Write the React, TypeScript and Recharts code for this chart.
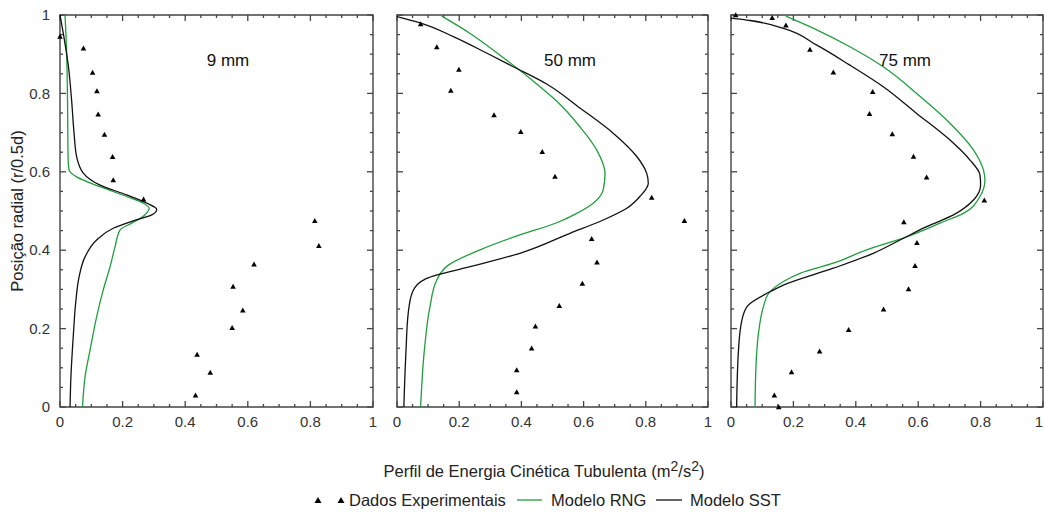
import { ScatterChart, Scatter, XAxis, YAxis, ReferenceArea, ReferenceLine } from 'recharts'

type Pt = [number, number]

// tick positions shared by every panel (major every 0.2, minor every 0.05)
const axisTicks = [0, 0.05, 0.1, 0.15, 0.2, 0.25, 0.3, 0.35, 0.4, 0.45, 0.5, 0.55, 0.6, 0.65, 0.7, 0.75, 0.8, 0.85, 0.9, 0.95, 1]

const panelLabels = ['9 mm', '50 mm', '75 mm']

// 9 mm
const exp9: Pt[] = [[0.0, 0.945], [0.075, 0.915], [0.104, 0.853], [0.118, 0.806], [0.122, 0.747], [0.142, 0.695], [0.168, 0.638], [0.17, 0.579], [0.267, 0.53], [0.814, 0.475], [0.827, 0.411], [0.62, 0.364], [0.553, 0.307], [0.584, 0.247], [0.55, 0.202], [0.438, 0.134], [0.48, 0.088], [0.433, 0.03]]
const sst9: Pt[] = [[0, 1], [0.016, 0.927], [0.027, 0.868], [0.037, 0.783], [0.045, 0.698], [0.053, 0.639], [0.075, 0.596], [0.128, 0.566], [0.213, 0.541], [0.277, 0.52], [0.309, 0.504], [0.293, 0.49], [0.234, 0.475], [0.17, 0.456], [0.117, 0.426], [0.08, 0.383], [0.061, 0.332], [0.051, 0.273], [0.043, 0.188], [0.034, 0.06], [0.032, 0]]
const rng9: Pt[] = [[0.016, 1], [0.021, 0.911], [0.024, 0.783], [0.026, 0.63], [0.029, 0.605], [0.053, 0.587], [0.128, 0.562], [0.213, 0.537], [0.266, 0.52], [0.285, 0.507], [0.271, 0.49], [0.229, 0.469], [0.192, 0.452], [0.176, 0.409], [0.16, 0.358], [0.138, 0.298], [0.117, 0.23], [0.096, 0.145], [0.08, 0.077], [0.072, 0]]

// 50 mm
const exp50: Pt[] = [[0.076, 0.977], [0.128, 0.918], [0.199, 0.861], [0.173, 0.807], [0.312, 0.745], [0.398, 0.702], [0.467, 0.651], [0.508, 0.588], [0.819, 0.534], [0.924, 0.475], [0.626, 0.429], [0.643, 0.369], [0.596, 0.315], [0.522, 0.258], [0.445, 0.206], [0.433, 0.15], [0.385, 0.094], [0.385, 0.038]]
const sst50: Pt[] = [[0, 0.996], [0.074, 0.98], [0.181, 0.945], [0.288, 0.903], [0.374, 0.868], [0.481, 0.824], [0.588, 0.763], [0.696, 0.698], [0.771, 0.639], [0.803, 0.596], [0.808, 0.571], [0.781, 0.537], [0.739, 0.507], [0.663, 0.477], [0.556, 0.443], [0.395, 0.392], [0.235, 0.358], [0.095, 0.328], [0.05, 0.294], [0.036, 0.239], [0.029, 0.145], [0.022, 0]]
const rng50: Pt[] = [[0.144, 0.997], [0.235, 0.953], [0.342, 0.891], [0.428, 0.838], [0.514, 0.78], [0.588, 0.715], [0.642, 0.656], [0.669, 0.596], [0.663, 0.554], [0.631, 0.52], [0.578, 0.494], [0.514, 0.47], [0.395, 0.439], [0.267, 0.401], [0.165, 0.362], [0.128, 0.324], [0.106, 0.256], [0.088, 0.145], [0.076, 0]]

// 75 mm
const exp75: Pt[] = [[0.015, 1.0], [0.132, 0.993], [0.176, 0.974], [0.253, 0.912], [0.328, 0.854], [0.454, 0.804], [0.444, 0.748], [0.517, 0.696], [0.585, 0.639], [0.627, 0.586], [0.812, 0.527], [0.554, 0.472], [0.596, 0.419], [0.59, 0.36], [0.569, 0.301], [0.489, 0.249], [0.377, 0.197], [0.284, 0.142], [0.194, 0.089], [0.139, 0.03], [0.153, 0]]
const sst75: Pt[] = [[0, 0.992], [0.061, 0.986], [0.168, 0.966], [0.275, 0.923], [0.381, 0.872], [0.488, 0.817], [0.595, 0.749], [0.702, 0.681], [0.766, 0.63], [0.798, 0.592], [0.8, 0.566], [0.777, 0.528], [0.713, 0.49], [0.627, 0.46], [0.542, 0.426], [0.456, 0.392], [0.328, 0.354], [0.168, 0.311], [0.12, 0.292], [0.053, 0.258], [0.034, 0.218], [0.024, 0.145], [0.018, 0]]
const rng75: Pt[] = [[0.176, 0.997], [0.275, 0.962], [0.381, 0.919], [0.488, 0.868], [0.595, 0.8], [0.702, 0.724], [0.777, 0.656], [0.809, 0.605], [0.814, 0.579], [0.798, 0.537], [0.745, 0.494], [0.67, 0.469], [0.563, 0.434], [0.435, 0.401], [0.328, 0.367], [0.221, 0.341], [0.168, 0.32], [0.12, 0.289], [0.104, 0.256], [0.088, 0.188], [0.08, 0.103], [0.077, 0]]

const FONT = '"Liberation Sans", Arial, sans-serif'
const AXIS = '#444'
const GREEN = '#1f9e3c'
const BLACK = '#111'

const toPts = (arr: Pt[]) => arr.map(([x, y]) => ({ x, y }))
const toCurve = (arr: Pt[]) => toPts(arr).sort((a, b) => a.y - b.y)

const isMajor = (v: number) => Math.abs(v * 5 - Math.round(v * 5)) < 1e-6
const fmt = (v: number) => (v === 0 ? '0' : v === 1 ? '1' : v.toFixed(1))
const tickLen = (v: number) => (isMajor(v) ? 6 : 3)

// axis labels only; tick marks are drawn with ReferenceLine shapes below
const BottomLabel = (props: any) => {
  const { x, y, payload, lastShift } = props
  const v = payload.value
  if (!isMajor(v)) return <g />
  return (
    <text x={v === 1 && lastShift ? x - 4 : x} y={y + 20} textAnchor="middle" fontSize={15} fill="#333" fontFamily={FONT}>
      {fmt(v)}
    </text>
  )
}
const LeftLabel = (props: any) => {
  const { x, y, payload } = props
  const v = payload.value
  if (!isMajor(v)) return <g />
  return (
    <text x={x - 10} y={y} dy="0.35em" textAnchor="end" fontSize={15} fill="#333" fontFamily={FONT}>
      {fmt(v)}
    </text>
  )
}

// inward ticks at both ends of a vertical reference line (top and bottom axes)
const VTicks = (props: any) => {
  const { x1, y1, y2, len } = props
  const top = Math.min(y1, y2)
  const bot = Math.max(y1, y2)
  return (
    <g stroke={AXIS} strokeWidth={1.3}>
      <line x1={x1} x2={x1} y1={top} y2={top + len} />
      <line x1={x1} x2={x1} y1={bot} y2={bot - len} />
    </g>
  )
}
// inward ticks at both ends of a horizontal reference line (left and right axes)
const HTicks = (props: any) => {
  const { x1, x2, y1, len } = props
  const l = Math.min(x1, x2)
  const r = Math.max(x1, x2)
  return (
    <g stroke={AXIS} strokeWidth={1.3}>
      <line x1={l} x2={l + len} y1={y1} y2={y1} />
      <line x1={r} x2={r - len} y1={y1} y2={y1} />
    </g>
  )
}

const Triangle = (props: any) => {
  const { cx, cy } = props
  if (cx == null || cy == null) return <g />
  return <polygon points={`${cx - 2.8},${cy + 2.2} ${cx + 2.8},${cy + 2.2} ${cx},${cy - 2.8}`} fill="#000" />
}
const NoDot = () => <g />

function Panel({ left, width, marginLeft, marginRight, yWidth, showLabel, lastShift, exp, rng, sst }: any) {
  return (
    <div style={{ position: 'absolute', left, top: 0 }}>
      <ScatterChart width={width} height={430} margin={{ top: 15, right: marginRight, bottom: 0, left: marginLeft }}>
        <XAxis xAxisId="b" dataKey="x" type="number" domain={[0, 1]} ticks={axisTicks} interval={0} height={23}
          tickSize={0} tickMargin={0} tickLine={false} axisLine={false} tick={<BottomLabel lastShift={lastShift} />} />
        <YAxis yAxisId="l" dataKey="y" type="number" domain={[0, 1]} ticks={axisTicks} interval={0} width={yWidth}
          tickSize={0} tickMargin={0} tickLine={false} axisLine={false} tick={showLabel ? <LeftLabel /> : false} />
        {axisTicks.map((v) => (
          <ReferenceLine key={`vx${v}`} xAxisId="b" yAxisId="l" x={v} ifOverflow="visible"
            shape={(p: any) => <VTicks {...p} len={tickLen(v)} />} />
        ))}
        {axisTicks.map((v) => (
          <ReferenceLine key={`hy${v}`} xAxisId="b" yAxisId="l" y={v} ifOverflow="visible"
            shape={(p: any) => <HTicks {...p} len={tickLen(v)} />} />
        ))}
        <ReferenceArea xAxisId="b" yAxisId="l" x1={0} x2={1} y1={0} y2={1} fill="none" fillOpacity={0}
          stroke={AXIS} strokeWidth={1.4} ifOverflow="visible" />
        <Scatter xAxisId="b" yAxisId="l" data={toCurve(rng)} line={{ stroke: GREEN, strokeWidth: 1.3 }} lineJointType="monotoneY"
          shape={<NoDot />} isAnimationActive={false} />
        <Scatter xAxisId="b" yAxisId="l" data={toCurve(sst)} line={{ stroke: BLACK, strokeWidth: 1.3 }} lineJointType="monotoneY"
          shape={<NoDot />} isAnimationActive={false} />
        <Scatter xAxisId="b" yAxisId="l" data={toPts(exp)} shape={<Triangle />} isAnimationActive={false} />
      </ScatterChart>
    </div>
  )
}

export default function App() {
  return (
    <div style={{ position: 'absolute', left: 0, top: 0, width: 1044, height: 512, background: '#fff', fontFamily: FONT }}>
      <Panel left={0} width={380} marginLeft={0} marginRight={7} yWidth={60} showLabel exp={exp9} rng={rng9} sst={sst9} />
      <Panel left={390} width={325} marginLeft={7} marginRight={7} yWidth={0} exp={exp50} rng={rng50} sst={sst50} />
      <Panel left={724} width={320} marginLeft={7} marginRight={1} yWidth={0} lastShift exp={exp75} rng={rng75} sst={sst75} />
      <svg width={1044} height={512} style={{ position: 'absolute', left: 0, top: 0, pointerEvents: 'none' }} fontFamily={FONT}>
        <text x={228} y={66} textAnchor="middle" fontSize={17} fill="#111">{panelLabels[0]}</text>
        <text x={570} y={66} textAnchor="middle" fontSize={17} fill="#111">{panelLabels[1]}</text>
        <text x={905} y={66} textAnchor="middle" fontSize={17} fill="#111">{panelLabels[2]}</text>
        <text x={0} y={0} transform="translate(23,211) rotate(-90)" textAnchor="middle" fontSize={16.5} fill="#222">
          Posição radial (r/0.5d)
        </text>
        <text x={544} y={477} textAnchor="middle" fontSize={16.5} fill="#222">
          Perfil de Energia Cinética Tubulenta (m<tspan dy={-6} fontSize={14}>2</tspan><tspan dy={6}>/s</tspan><tspan dy={-6} fontSize={14}>2</tspan><tspan dy={6}>)</tspan>
        </text>
        <g fill="#000">
          <polygon points="314.5,503 321.5,503 318,497" />
          <polygon points="337.5,503 344.5,503 341,497" />
        </g>
        <text x={349} y={506} fontSize={16.5} fill="#222">Dados Experimentais</text>
        <line x1={517} x2={542} y1={500} y2={500} stroke={GREEN} strokeWidth={1.3} />
        <text x={551} y={506} fontSize={16.5} fill="#222">Modelo RNG</text>
        <line x1={656} x2={682} y1={500} y2={500} stroke={BLACK} strokeWidth={1.3} />
        <text x={690} y={506} fontSize={16.5} fill="#222">Modelo SST</text>
      </svg>
    </div>
  )
}
